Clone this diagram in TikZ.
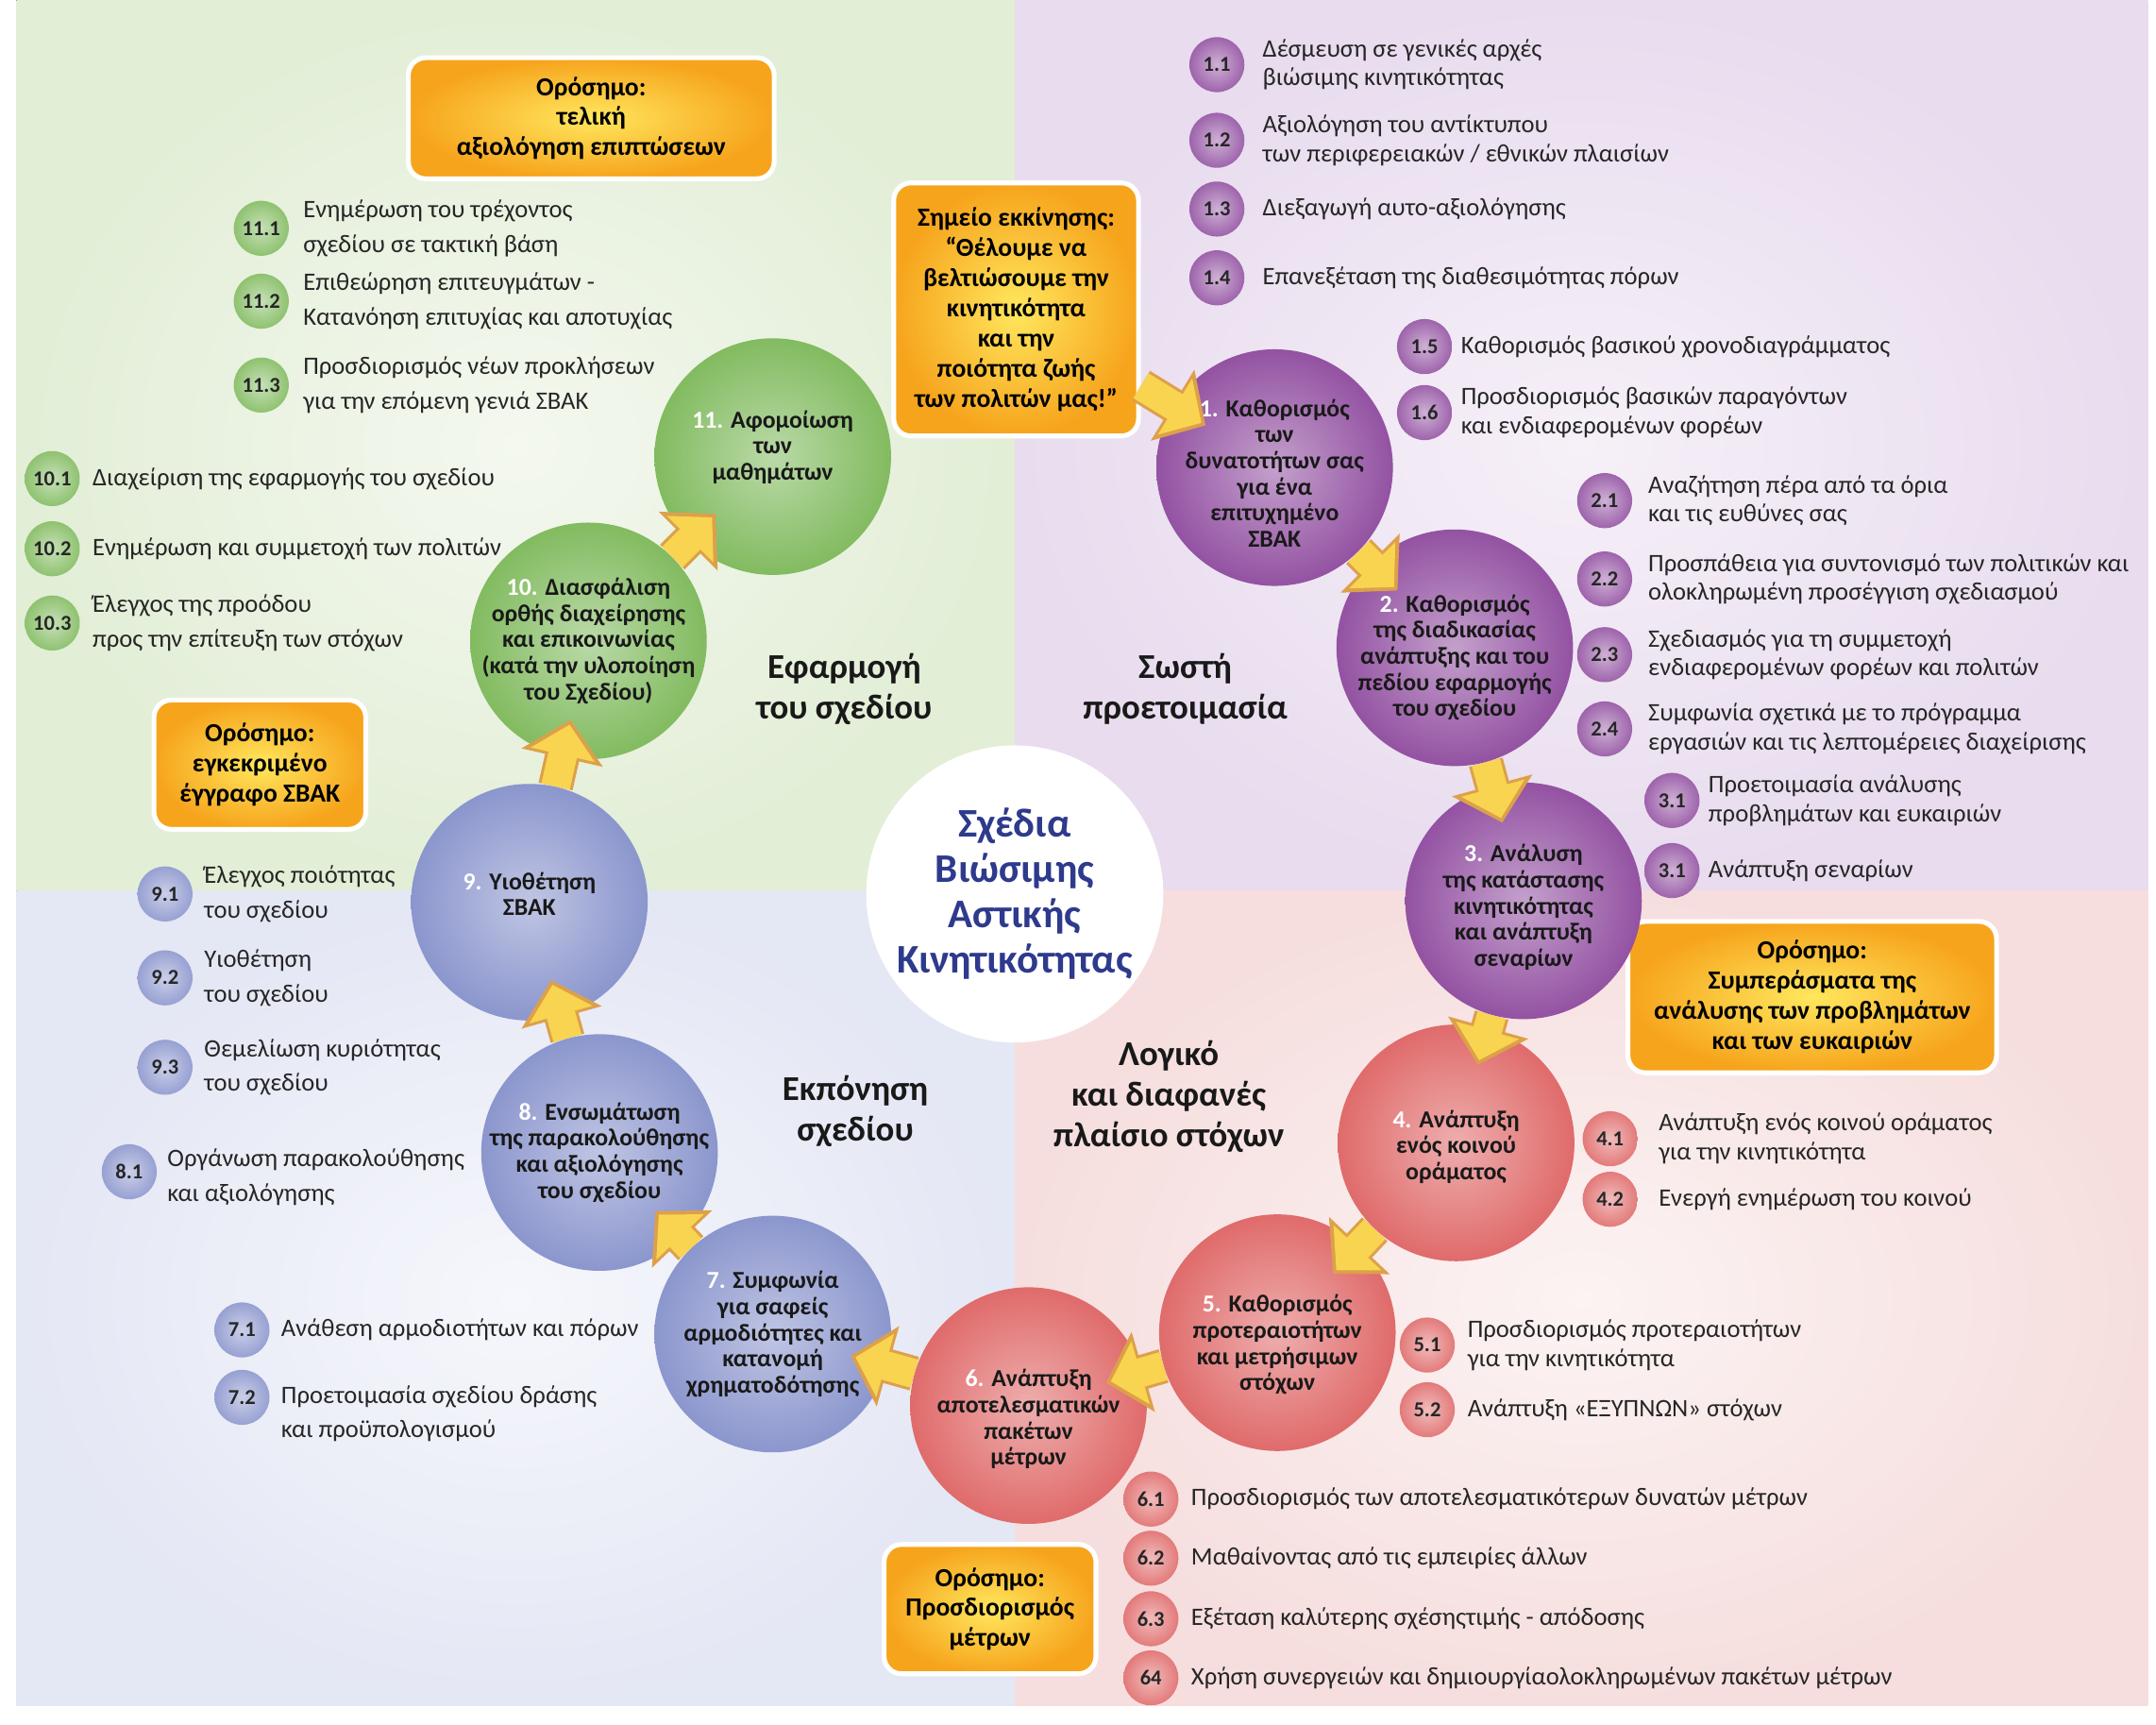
\documentclass[tikz,border=0pt]{standalone}
\usepackage{fontspec}
\setmainfont{Carlito}
\usepackage{tikz}
\usetikzlibrary{positioning,arrows.meta}
\usepackage{xcolor}

\definecolor{purp}{HTML}{9352A2}
\definecolor{leaf}{HTML}{82BB60}
\definecolor{slate}{HTML}{8B96CD}
\definecolor{rose}{HTML}{E06B6B}
\definecolor{goalin}{HTML}{FFE75E}
\definecolor{goalout}{HTML}{F6A41C}
\definecolor{arrfill}{HTML}{F9D450}
\definecolor{arredge}{HTML}{DDA04A}
\definecolor{hubblue}{HTML}{2E3A8C}
\definecolor{qgreen}{HTML}{E2EED6}
\definecolor{qgreenin}{HTML}{F4F8EF}
\definecolor{qpurple}{HTML}{E8DCEE}
\definecolor{qpurplein}{HTML}{F6F0F8}
\definecolor{qblue}{HTML}{E4E7F4}
\definecolor{qbluein}{HTML}{F6F7FC}
\definecolor{qpink}{HTML}{F6DEDE}
\definecolor{qpinkin}{HTML}{FCF3F3}

\begin{document}
\begin{tikzpicture}[x=0.025cm,y=-0.025cm,
stage/.style={circle,minimum size=4.3cm,inner sep=0pt,inner color=#1!55!white,outer color=#1},
stagetext/.style={align=center,inner sep=0pt,text=black!90,font=\bfseries\fontsize{12.6}{13.5}\selectfont},
num/.style={circle,minimum size=1cm,inner sep=0pt,inner color=#1!45!white,outer color=#1!90!white,text=black!85,font=\bfseries\fontsize{11}{12}\selectfont},
subtext/.style={align=left,inner sep=0pt,text=black!85,font=\fontsize{13}{15}\selectfont},
loose/.style={font=\fontsize{13}{17.8}\selectfont},
goal/.style={rectangle,rounded corners=9pt,draw=white,line width=2.5pt,inner color=goalin,outer color=goalout,align=center,text=black,font=\bfseries\fontsize{13.5}{15.6}\selectfont},
phase/.style={align=center,text=black!90,font=\bfseries\fontsize{18}{21}\selectfont},
hub/.style={circle,fill=white,minimum size=5.4cm,inner sep=0pt,align=center,text=hubblue,font=\bfseries\fontsize{21}{23.5}\selectfont},
flow/.style={draw=arrfill,line width=15pt,-{Triangle[length=16pt,width=33pt]},shorten >=-17pt,
  preaction={draw=arredge,line width=18pt,-{Triangle[length=20pt,width=42pt]},shorten >=-19.5pt}}]

% background quarters
\useasboundingbox (0,0) rectangle (1568,1254);
\fill[white] (0,0) rectangle (1568,1254);
\fill[inner color=qgreenin,outer color=qgreen] (12,0) rectangle (738,648);
\fill[inner color=qpurplein,outer color=qpurple] (738,0) rectangle (1562,648);
\fill[inner color=qbluein,outer color=qblue] (12,648) rectangle (738,1240);
\fill[inner color=qpinkin,outer color=qpink] (738,648) rectangle (1562,1240);

% phase titles and hub
\node[phase] (p1) at (614,501) {Εφαρμογή\\του σχεδίου};
\node[phase] (p2) at (862,501) {Σωστή\\προετοιμασία};
\node[phase] (p3) at (622,808) {Εκπόνηση\\σχεδίου};
\node[phase] (p4) at (850,797) {Λογικό\\και διαφανές\\πλαίσιο στόχων};
\node[hub] (core) at (738,650) {Σχέδια\\Βιώσιμης\\Αστικής\\Κινητικότητας};

% milestones
\node[goal,minimum width=6.65cm,minimum height=2.2cm] (m11) at (430,86) {Ορόσημο:\\τελική\\αξιολόγηση επιπτώσεων};
\node[goal,minimum width=4.45cm,minimum height=4.6cm] (start) at (739,225) {Σημείο εκκίνησης:\\“Θέλουμε να\\βελτιώσουμε την\\κινητικότητα\\και την\\ποιότητα ζωής\\των πολιτών μας!”};
\node[goal,minimum width=3.85cm,minimum height=2.35cm] (m9) at (189,556) {Ορόσημο:\\εγκεκριμένο\\έγγραφο ΣΒΑΚ};
\node[goal,minimum width=6.7cm,minimum height=2.75cm] (m3) at (1318,725) {Ορόσημο:\\Συμπεράσματα της\\ανάλυσης των προβλημάτων\\και των ευκαιριών};
\node[goal,minimum width=3.85cm,minimum height=2.35cm] (m6) at (720,1170) {Ορόσημο:\\Προσδιορισμός\\μέτρων};

% the eleven stages
\node[stage=purp,label={[stagetext,yshift=-0.1cm]center:{\textcolor{white}{1.} Καθορισμός\\των\\δυνατοτήτων σας\\για ένα\\επιτυχημένο\\ΣΒΑΚ}}] (c1) at (927,340) {};
\node[stage=purp,label={[stagetext,yshift=-0.18cm]center:{\textcolor{white}{2.} Καθορισμός\\της διαδικασίας\\ανάπτυξης και του\\πεδίου εφαρμογής\\του σχεδίου}}] (c2) at (1058,471) {};
\node[stage=purp,label={[stagetext,yshift=-0.12cm]center:{\textcolor{white}{3.} Ανάλυση\\της κατάστασης\\κινητικότητας\\και ανάπτυξη\\σεναρίων}}] (c3) at (1108,655) {};
\node[stage=rose,label={[stagetext,yshift=-0.07cm]center:{\textcolor{white}{4.} Ανάπτυξη\\ενός κοινού\\οράματος}}] (c4) at (1059,831) {};
\node[stage=rose,label={[stagetext,yshift=-0.22cm]center:{\textcolor{white}{5.} Καθορισμός\\προτεραιοτήτων\\και μετρήσιμων\\στόχων}}] (c5) at (929,969) {};
\node[stage=rose,label={[stagetext,yshift=-0.25cm]center:{\textcolor{white}{6.} Ανάπτυξη\\αποτελεσματικών\\πακέτων\\μέτρων}}] (c6) at (748,1022) {};
\node[stage=slate,label={[stagetext]center:{\textcolor{white}{7.} Συμφωνία\\για σαφείς\\αρμοδιότητες και\\κατανομή\\χρηματοδότησης}}] (c7) at (562,970) {};
\node[stage=slate,label={[stagetext]center:{\textcolor{white}{8.} Ενσωμάτωση\\της παρακολούθησης\\και αξιολόγησης\\του σχεδίου}}] (c8) at (436,838) {};
\node[stage=slate,label={[stagetext,yshift=0.15cm]center:{\textcolor{white}{9.} Υιοθέτηση\\ΣΒΑΚ}}] (c9) at (385,656) {};
\node[stage=leaf,label={[stagetext]center:{\textcolor{white}{10.} Διασφάλιση\\ορθής διαχείρησης\\και επικοινωνίας\\(κατά την υλοποίηση\\του Σχεδίου)}}] (c10) at (428,466) {};
\node[stage=leaf,label={[stagetext,yshift=0.17cm]center:{\textcolor{white}{11.} Αφομοίωση\\των\\μαθημάτων}}] (c11) at (562,332) {};

% sub-steps, stage 1
\node[num=purp] (s11) at (885,47) {1.1};
\node[subtext,right=0.32cm of s11] (t11) {Δέσμευση σε γενικές αρχές\\βιώσιμης κινητικότητας};
\node[num=purp] (s12) at (885,102) {1.2};
\node[subtext,right=0.32cm of s12] (t12) {Αξιολόγηση του αντίκτυπου\\των περιφερειακών / εθνικών πλαισίων};
\node[num=purp] (s13) at (885,152) {1.3};
\node[subtext,right=0.32cm of s13] (t13) {Διεξαγωγή αυτο-αξιολόγησης};
\node[num=purp] (s14) at (885,202) {1.4};
\node[subtext,right=0.32cm of s14] (t14) {Επανεξέταση της διαθεσιμότητας πόρων};
\node[num=purp] (s15) at (1036,252) {1.5};
\node[subtext,right=0.15cm of s15] (t15) {Καθορισμός βασικού χρονοδιαγράμματος};
\node[num=purp] (s16) at (1036,300) {1.6};
\node[subtext,right=0.15cm of s16] (t16) {Προσδιορισμός βασικών παραγόντων\\και ενδιαφερομένων φορέων};

% stage 2
\node[num=purp] (s21) at (1167,364) {2.1};
\node[subtext,right=0.28cm of s21] (t21) {Αναζήτηση πέρα από τα όρια\\και τις ευθύνες σας};
\node[num=purp] (s22) at (1167,421) {2.2};
\node[subtext,right=0.28cm of s22] (t22) {Προσπάθεια για συντονισμό των πολιτικών και\\ολοκληρωμένη προσέγγιση σχεδιασμού};
\node[num=purp] (s23) at (1167,476) {2.3};
\node[subtext,right=0.28cm of s23] (t23) {Σχεδιασμός για τη συμμετοχή\\ενδιαφερομένων φορέων και πολιτών};
\node[num=purp] (s24) at (1167,530) {2.4};
\node[subtext,right=0.28cm of s24] (t24) {Συμφωνία σχετικά με το πρόγραμμα\\εργασιών και τις λεπτομέρειες διαχείρισης};

% stage 3
\node[num=purp] (s31) at (1216,582) {3.1};
\node[subtext,right=0.15cm of s31] (t31) {Προετοιμασία ανάλυσης\\προβλημάτων και ευκαιριών};
\node[num=purp] (s32) at (1216,633) {3.1};
\node[subtext,right=0.15cm of s32] (t32) {Ανάπτυξη σεναρίων};

% stage 4
\node[num=rose] (s41) at (1171,828) {4.1};
\node[subtext,right=0.37cm of s41] (t41) {Ανάπτυξη ενός κοινού οράματος\\για την κινητικότητα};
\node[num=rose] (s42) at (1171,872) {4.2};
\node[subtext,right=0.37cm of s42] (t42) {Ενεργή ενημέρωση του κοινού};

% stage 5
\node[num=rose] (s51) at (1038,978) {5.1};
\node[subtext,right=0.22cm of s51] (t51) {Προσδιορισμός προτεραιοτήτων\\για την κινητικότητα};
\node[num=rose] (s52) at (1038,1025) {5.2};
\node[subtext,right=0.22cm of s52] (t52) {Ανάπτυξη «ΕΞΥΠΝΩΝ» στόχων};

% stage 6
\node[num=rose] (s61) at (837,1090) {6.1};
\node[subtext,right=0.22cm of s61] (t61) {Προσδιορισμός των αποτελεσματικότερων δυνατών μέτρων};
\node[num=rose] (s62) at (837,1133) {6.2};
\node[subtext,right=0.22cm of s62] (t62) {Μαθαίνοντας από τις εμπειρίες άλλων};
\node[num=rose] (s63) at (837,1177) {6.3};
\node[subtext,right=0.22cm of s63] (t63) {Εξέταση καλύτερης σχέσηςτιμής - απόδοσης};
\node[num=rose] (s64) at (837,1220) {64};
\node[subtext,right=0.22cm of s64] (t64) {Χρήση συνεργειών και δημιουργίαολοκληρωμένων πακέτων μέτρων};

% stage 7
\node[num=slate] (s71) at (176,967) {7.1};
\node[subtext,right=0.2cm of s71] (t71) {Ανάθεση αρμοδιοτήτων και πόρων};
\node[num=slate] (s72) at (176,1016) {7.2};
\node[subtext,loose,right=0.2cm of s72,yshift=-0.3cm] (t72) {Προετοιμασία σχεδίου δράσης\\και προϋπολογισμού};

% stage 8
\node[num=slate] (s81) at (94,852) {8.1};
\node[subtext,loose,right=0.18cm of s81,yshift=-0.1cm] (t81) {Οργάνωση παρακολούθησης\\και αξιολόγησης};

% stage 9
\node[num=slate] (s91) at (120,650) {9.1};
\node[subtext,loose,right=0.2cm of s91] (t91) {Έλεγχος ποιότητας\\του σχεδίου};
\node[num=slate] (s92) at (120,711) {9.2};
\node[subtext,loose,right=0.2cm of s92] (t92) {Υιοθέτηση\\του σχεδίου};
\node[num=slate] (s93) at (120,776) {9.3};
\node[subtext,loose,right=0.2cm of s93] (t93) {Θεμελίωση κυριότητας\\του σχεδίου};

% stage 10
\node[num=leaf] (s101) at (38,348) {10.1};
\node[subtext,right=0.22cm of s101] (t101) {Διαχείριση της εφαρμογής του σχεδίου};
\node[num=leaf] (s102) at (38,399) {10.2};
\node[subtext,right=0.22cm of s102] (t102) {Ενημέρωση και συμμετοχή των πολιτών};
\node[num=leaf] (s103) at (38,453) {10.3};
\node[subtext,loose,right=0.22cm of s103] (t103) {Έλεγχος της προόδου\\προς την επίτευξη των στόχων};

% stage 11
\node[num=leaf] (s111) at (190,166) {11.1};
\node[subtext,loose,right=0.25cm of s111] (t111) {Ενημέρωση του τρέχοντος\\σχεδίου σε τακτική βάση};
\node[num=leaf] (s112) at (190,219) {11.2};
\node[subtext,loose,right=0.25cm of s112] (t112) {Επιθεώρηση επιτευγμάτων -\\Κατανόηση επιτυχίας και αποτυχίας};
\node[num=leaf] (s113) at (190,280) {11.3};
\node[subtext,loose,right=0.25cm of s113] (t113) {Προσδιορισμός νέων προκλήσεων\\για την επόμενη γενιά ΣΒΑΚ};

% the cycle
\draw[flow] (start) -- (c1);
\draw[flow] (c1) -- (c2);
\draw[flow] (c2) -- (c3);
\draw[flow] (c3) -- (c4);
\draw[flow] (c4) -- (c5);
\draw[flow] (c5) -- (c6);
\draw[flow] (c6) -- (c7);
\draw[flow] (c7) -- (c8);
\draw[flow] (c8) -- (c9);
\draw[flow] (c9) -- (c10);
\draw[flow] (c10) -- (c11);
\end{tikzpicture}
\end{document}
